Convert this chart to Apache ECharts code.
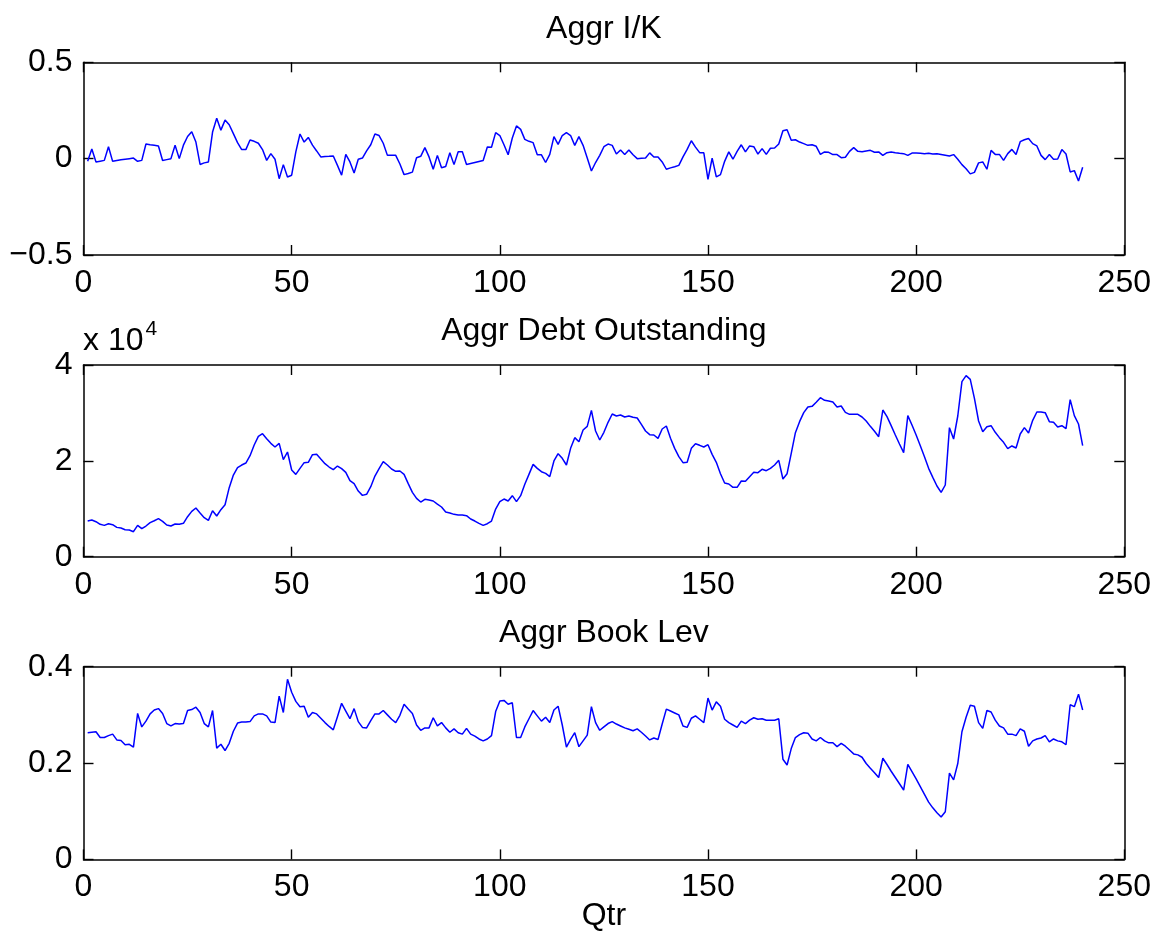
<!DOCTYPE html>
<html>
<head>
<meta charset="utf-8">
<script src="https://cdn.jsdelivr.net/npm/echarts@6/dist/echarts.min.js"></script>
<style>html,body{margin:0;padding:0;background:#fff;}#c{width:1155px;height:938px;}</style>
</head>
<body>
<div id="c"></div>
<script>
var titles = ['Aggr I/K', 'Aggr Debt Outstanding', 'Aggr Book Lev'];
var xLabel = 'Qtr';
var xTicks = [0, 50, 100, 150, 200, 250];
var ikTicks = [-0.5, 0, 0.5];
var debtTicks = [0, 20000, 40000];
var levTicks = [0, 0.2, 0.4];

var ikData = [
-0.014,0.05,-0.017,-0.013,-0.009,0.062,-0.014,-0.01,-0.006,-0.003,
0.0,0.003,-0.014,-0.009,0.076,0.072,0.069,0.066,-0.01,-0.005,
0.0,0.07,0.0,0.07,0.115,0.14,0.086,-0.03,-0.022,-0.017,
0.138,0.21,0.148,0.2,0.176,0.13,0.083,0.047,0.047,0.097,
0.09,0.08,0.047,-0.009,0.026,-0.003,-0.104,-0.031,-0.095,-0.086,
0.035,0.128,0.086,0.11,0.07,0.04,0.009,0.011,0.012,0.014,
-0.035,-0.086,0.022,-0.017,-0.074,-0.003,0.003,0.04,0.072,0.128,
0.12,0.08,0.017,0.018,0.017,-0.028,-0.083,-0.077,-0.07,0.005,
0.012,0.057,0.009,-0.055,0.017,-0.047,-0.041,0.031,-0.031,0.036,
0.036,-0.03,-0.025,-0.02,-0.015,-0.01,0.06,0.059,0.135,0.12,
0.072,0.02,0.107,0.17,0.152,0.1,0.09,0.083,0.02,0.02,
-0.02,0.022,0.114,0.074,0.12,0.135,0.12,0.069,0.114,0.069,
0.003,-0.064,-0.02,0.017,0.062,0.076,0.069,0.024,0.045,0.022,
0.045,0.02,0.0,0.002,0.003,0.03,0.009,0.009,-0.017,-0.055,
-0.048,-0.042,-0.035,0.009,0.048,0.093,0.06,0.031,0.03,-0.107,
0.003,-0.095,-0.083,-0.014,0.035,-0.003,0.038,0.072,0.035,0.066,
0.062,0.024,0.052,0.022,0.054,0.055,0.076,0.145,0.15,0.095,
0.098,0.086,0.078,0.069,0.072,0.064,0.022,0.035,0.033,0.021,
0.021,0.005,0.007,0.038,0.057,0.038,0.036,0.04,0.043,0.033,
0.035,0.017,0.031,0.035,0.031,0.028,0.026,0.017,0.029,0.029,
0.028,0.026,0.028,0.024,0.026,0.022,0.018,0.014,0.021,-0.003,
-0.031,-0.052,-0.079,-0.071,-0.022,-0.017,-0.055,0.043,0.022,0.022,
-0.009,0.026,0.048,0.022,0.088,0.098,0.105,0.078,0.066,0.017,
-0.005,0.021,-0.003,-0.002,0.047,0.024,-0.069,-0.062,-0.116,-0.045
];

var debtData = [
7444,7650,7300,6750,6540,6890,6680,6120,5980,5635,
5565,5220,6540,5845,6400,7100,7510,7930,7375,6610,
6400,6820,6750,6960,8350,9460,10160,9110,8140,7580,
9600,8490,9810,10850,14400,17045,18575,19130,19550,21080,
23300,25115,25670,24630,23650,22890,23650,20245,21845,18090,
17180,18435,19620,19690,21290,21360,20380,19410,18715,18160,
18920,18370,17600,15860,15240,13700,12800,13010,14610,16835,
18370,19830,19130,18300,17810,17880,17180,15240,13430,12175,
11410,11965,11830,11620,10990,10370,9320,9110,8835,8700,
8700,8560,7860,7440,6960,6540,6890,7440,9950,11480,
12035,11620,12730,11480,12730,15100,17180,19270,18435,17740,
17390,16700,19970,21500,20520,19130,22610,24840,24000,26440,
27200,30540,26230,24350,25950,28040,29780,29360,29570,29150,
29360,29080,28940,27620,26230,25460,25390,24700,26645,27270,
24700,22610,20870,19620,19690,22610,23580,23240,22890,23375,
21360,19690,17320,15370,15170,14470,14470,15790,15720,16700,
17600,17530,18230,17950,18435,19130,20100,16210,17320,21570,
25880,28175,30055,31240,31375,32210,33185,32630,32490,32280,
31240,31445,30125,29710,29710,29710,29150,28315,27200,26160,
25045,30610,29220,27340,25390,23515,21705,29430,27480,25390,
23165,20870,18435,16560,14750,13430,14960,26925,24560,29360,
36525,37780,37010,33050,28315,26090,27130,27340,25950,24840,
23860,22540,23100,22680,25600,26925,25810,28450,30190,30190,
30055,28175,28040,27060,27340,26715,32770,29430,27690,23165
];

var levData = [
0.263,0.264,0.265,0.253,0.253,0.257,0.26,0.248,0.247,0.238,
0.239,0.233,0.303,0.275,0.287,0.302,0.31,0.313,0.303,0.282,
0.277,0.282,0.281,0.282,0.309,0.311,0.316,0.305,0.282,0.275,
0.309,0.231,0.239,0.226,0.241,0.266,0.283,0.285,0.285,0.286,
0.298,0.302,0.302,0.298,0.285,0.284,0.339,0.305,0.374,0.347,
0.328,0.317,0.318,0.295,0.305,0.302,0.293,0.284,0.276,0.269,
0.296,0.324,0.308,0.292,0.313,0.286,0.274,0.273,0.288,0.302,
0.302,0.309,0.3,0.291,0.284,0.299,0.322,0.312,0.303,0.279,
0.268,0.273,0.273,0.294,0.277,0.284,0.273,0.264,0.271,0.263,
0.26,0.272,0.26,0.256,0.25,0.246,0.25,0.257,0.307,0.329,
0.33,0.322,0.325,0.253,0.253,0.275,0.292,0.309,0.298,0.287,
0.295,0.284,0.31,0.318,0.279,0.233,0.249,0.263,0.234,0.246,
0.258,0.317,0.284,0.268,0.275,0.282,0.286,0.281,0.277,0.273,
0.27,0.267,0.271,0.264,0.256,0.248,0.252,0.249,0.281,0.312,
0.308,0.304,0.3,0.277,0.274,0.293,0.298,0.291,0.284,0.335,
0.31,0.327,0.318,0.291,0.284,0.279,0.274,0.287,0.282,0.289,
0.294,0.291,0.292,0.289,0.289,0.289,0.292,0.208,0.196,0.23,
0.253,0.259,0.263,0.262,0.25,0.246,0.253,0.246,0.242,0.242,
0.234,0.241,0.235,0.227,0.219,0.217,0.212,0.199,0.189,0.18,
0.17,0.21,0.197,0.183,0.17,0.157,0.144,0.197,0.182,0.167,
0.151,0.135,0.119,0.107,0.097,0.088,0.099,0.179,0.165,0.199,
0.265,0.295,0.32,0.318,0.284,0.272,0.309,0.306,0.289,0.277,
0.273,0.26,0.26,0.257,0.271,0.266,0.235,0.246,0.25,0.252,
0.257,0.244,0.25,0.246,0.244,0.238,0.321,0.317,0.343,0.31
];

function pairs(arr) { return arr.map(function (v, i) { return [i + 1, v]; }); }

var FONT = 'Liberation Sans';
var FS = 32;
var plotLeft = 83.5, plotRight = 30.7;
var grids = [
  { left: plotLeft, right: plotRight, top: 62.3, height: 192.7 },
  { left: plotLeft, right: plotRight, top: 365, height: 191.7 },
  { left: plotLeft, right: plotRight, top: 666.7, height: 192.7 }
];
var yConf = [
  { ticks: ikTicks, fmt: function (v) { return v < 0 ? '\u2212' + Math.abs(v) : String(v); } },
  { ticks: debtTicks, fmt: function (v) { return String(v / 10000); } },
  { ticks: levTicks, fmt: function (v) { return String(Math.round(v * 10) / 10); } }
];
var seriesData = [ikData, debtData, levData];

function line() { return { show: true, onZero: false, lineStyle: { color: '#000', width: 1.5 } }; }
function tick() { return { show: true, inside: true, length: 10, lineStyle: { color: '#000', width: 1.4 } }; }
var xAxes = [], yAxes = [], series = [];
for (var g = 0; g < 3; g++) {
  var yt = yConf[g].ticks;
  var ymin = yt[0], ymax = yt[yt.length - 1], yint = yt[1] - yt[0];
  xAxes.push({ type: 'value', gridIndex: g, min: xTicks[0], max: xTicks[xTicks.length - 1], interval: xTicks[1] - xTicks[0], position: 'bottom',
    axisLine: line(), axisTick: tick(), splitLine: { show: false },
    axisLabel: { show: true, margin: 12, color: '#000', fontFamily: FONT, fontSize: FS } });
  xAxes.push({ type: 'value', gridIndex: g, min: xTicks[0], max: xTicks[xTicks.length - 1], interval: xTicks[1] - xTicks[0], position: 'top',
    axisLine: line(), axisTick: tick(), splitLine: { show: false }, axisLabel: { show: false } });
  yAxes.push({ type: 'value', gridIndex: g, min: ymin, max: ymax, interval: yint, position: 'left',
    axisLine: line(), axisTick: tick(), splitLine: { show: false },
    axisLabel: { show: true, margin: 11, color: '#000', fontFamily: FONT, fontSize: FS, formatter: yConf[g].fmt } });
  yAxes.push({ type: 'value', gridIndex: g, min: ymin, max: ymax, interval: yint, position: 'right',
    axisLine: line(), axisTick: tick(), splitLine: { show: false }, axisLabel: { show: false } });
  series.push({ type: 'line', xAxisIndex: 2 * g, yAxisIndex: 2 * g, data: pairs(seriesData[g]),
    showSymbol: false, symbol: 'none', animation: false, z: 1,
    lineStyle: { color: '#0000ff', width: 1.5 } });
}

var cx = plotLeft + (1155 - plotLeft - plotRight) / 2;
function tx(text, x, y) {
  return { type: 'text', x: x, y: y, style: { text: text, font: FS + 'px "' + FONT + '"', fill: '#000', align: 'center', verticalAlign: 'middle' } };
}
var graphics = [
  tx(titles[0], cx, 29),
  tx(titles[1], cx, 331),
  tx(titles[2], cx, 633),
  tx(xLabel, cx, 916),
  { type: 'text', x: 83, y: 341, style: { text: '{a|x 10}{b|4}', align: 'left', verticalAlign: 'middle',
      rich: { a: { fontFamily: FONT, fontSize: FS, color: '#000' },
              b: { fontFamily: FONT, fontSize: 21, color: '#000', padding: [0, 0, 24, 2] } } } }
];

var chart = echarts.init(document.getElementById('c'), null, { renderer: 'canvas' });
chart.setOption({
  animation: false,
  backgroundColor: '#fff',
  grid: grids,
  xAxis: xAxes,
  yAxis: yAxes,
  series: series,
  graphic: graphics
});
</script>
</body>
</html>
